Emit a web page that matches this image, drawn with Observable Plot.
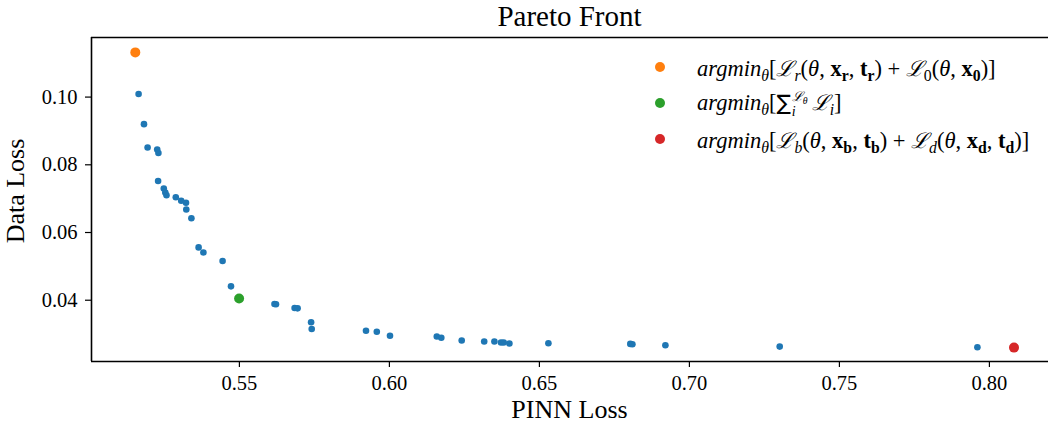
<!DOCTYPE html>
<html>
<head>
<meta charset="utf-8">
<script src="https://cdn.jsdelivr.net/npm/d3@7"></script>
<script src="https://cdn.jsdelivr.net/npm/@observablehq/plot@0.6"></script>
<style>
  html, body { margin: 0; padding: 0; background: #fff; }
  #wrap { position: relative; width: 1048px; height: 428px; overflow: hidden;
          font-family: "Liberation Serif", "DejaVu Serif", serif; color: #000; }
  #wrap svg { position: absolute; left: 0; top: 0; }
  .lbl { position: absolute; white-space: nowrap; line-height: 1.15; }
  #title { left: 91px; width: 957px; text-align: center; font-size: 29px; top: 0px; }
  #xlabel { left: 91px; width: 957px; text-align: center; font-size: 26px; top: 395px; }
  #ylabel { font-size: 26px; width: 200px; height: 30px; text-align: center;
            left: -84px; top: 176px; transform: rotate(-90deg); }
  .row { position: absolute; left: 650px; height: 36px; display: flex; align-items: center;
         font-size: 22.5px; white-space: nowrap; }
  .sw { width: 10px; height: 10px; border-radius: 50%; margin: 0 32px 0 5px; flex: none; }
  .m i { font-style: italic; }
  .m b { font-weight: bold; font-style: normal; }
  .m sub, .m sup { font-size: 0.7em; line-height: 0; }
  .m sub { vertical-align: -0.3em; }
  .cal { font-family: "DejaVu Serif", serif; font-style: italic; font-size: 0.95em; }
  .lim { display: inline-flex; flex-direction: column; font-size: 0.62em; line-height: 1.05;
         vertical-align: middle; margin: 0 4px 0 1px; }
  .sum { font-family: "DejaVu Sans", sans-serif; font-size: 0.95em; }
</style>
</head>
<body>
<div id="wrap">
  <div id="title" class="lbl">Pareto Front</div>
  <div id="xlabel" class="lbl">PINN Loss</div>
  <div id="ylabel" class="lbl">Data Loss</div>
</div>
<script>
// Non-dominated solutions found during training (PINN loss vs. data loss)
const pinnLoss = [
  0.5164, 0.5182, 0.5194, 0.5226, 0.5230, 0.5229, 0.5248, 0.5253, 0.5257, 0.5288,
  0.5306, 0.5322, 0.5323, 0.5340, 0.5364, 0.5380, 0.5444, 0.5472, 0.5617, 0.5622,
  0.5684, 0.5694, 0.5739, 0.5741, 0.5922, 0.5958, 0.6002, 0.6158, 0.6173, 0.6241,
  0.6316, 0.6350, 0.6372, 0.6381, 0.6400, 0.6530, 0.6803, 0.6810, 0.6920, 0.7301,
  0.7960
];
const dataLoss = [
  0.1009, 0.0920, 0.0851, 0.0845, 0.0835, 0.0752, 0.0730, 0.0718, 0.0710, 0.0704,
  0.0694, 0.0688, 0.0668, 0.0642, 0.0556, 0.0541, 0.0516, 0.0441, 0.0389, 0.0388,
  0.0377, 0.0376, 0.0335, 0.0315, 0.0310, 0.0307, 0.0295, 0.0293, 0.0289, 0.0281,
  0.0278, 0.0278, 0.0275, 0.0275, 0.0272, 0.0273, 0.0271, 0.0270, 0.0267, 0.0263,
  0.0261
];

// Minimisers of the individual objectives
const bestNames = ["residual+initial", "total", "boundary+data"];
const bestPinn = [0.5153, 0.5499, 0.8082];
const bestData = [0.1132, 0.0405, 0.0260];
const bestColors = ["#ff7f0e", "#2ca02c", "#d62728"];

const xTicks = [0.55, 0.60, 0.65, 0.70, 0.75, 0.80];
const yTicks = [0.04, 0.06, 0.08, 0.10];
const xDomain = [0.5007, 0.8197];
const yDomain = [0.0219, 0.1176];

// Legend entries (rich math text)
const legendHtml = [
  '<i>argmin</i><sub><i>θ</i></sub>[<span class="cal">ℒ</span><sub><i>r</i></sub>(<i>θ</i>, <b>x</b><sub><b>r</b></sub>, <b>t</b><sub><b>r</b></sub>) + <span class="cal">ℒ</span><sub>0</sub>(<i>θ</i>, <b>x</b><sub><b>0</b></sub>)]',
  '<i>argmin</i><sub><i>θ</i></sub>[<span class="sum">∑</span><span class="lim"><span><span class="cal">ℒ</span><sub><i>θ</i></sub></span><span><i>i</i></span></span><span class="cal">ℒ</span><sub><i>i</i></sub>]',
  '<i>argmin</i><sub><i>θ</i></sub>[<span class="cal">ℒ</span><sub><i>b</i></sub>(<i>θ</i>, <b>x</b><sub><b>b</b></sub>, <b>t</b><sub><b>b</b></sub>) + <span class="cal">ℒ</span><sub><i>d</i></sub>(<i>θ</i>, <b>x</b><sub><b>d</b></sub>, <b>t</b><sub><b>d</b></sub>)]'
];
const legendTop = [49, 85, 121];

const front = pinnLoss.map((p, i) => ({pinn: p, data: dataLoss[i]}));
const best = bestPinn.map((p, i) => ({name: bestNames[i], pinn: p, data: bestData[i], color: bestColors[i]}));

const chart = Plot.plot({
  width: 1048,
  height: 428,
  marginLeft: 91,
  marginRight: 0,
  marginTop: 37,
  marginBottom: 67,
  style: {fontFamily: '"Liberation Serif", "DejaVu Serif", serif', fontSize: "20px", color: "#000", background: "transparent"},
  x: {domain: xDomain},
  y: {domain: yDomain},
  color: {type: "identity"},
  marks: [
    Plot.axisX(xTicks, {tickFormat: d3.format(".2f"), tickSize: 6, tickPadding: 8, fontSize: 20.5, label: null, strokeWidth: 1.2}),
    Plot.axisY(yTicks, {tickFormat: d3.format(".2f"), tickSize: 6, tickPadding: 8, fontSize: 20.5, label: null, strokeWidth: 1.2}),
    Plot.dot(front, {x: "pinn", y: "data", r: 3.3, fill: "#1f77b4"}),
    Plot.dot(best, {x: "pinn", y: "data", r: 5, fill: "color"}),
    Plot.ruleX([xDomain[0]], {stroke: "#000", strokeWidth: 1.6}),
    Plot.ruleY([yDomain[0], yDomain[1]], {stroke: "#000", strokeWidth: 1.6})
  ]
});

const wrap = document.getElementById("wrap");
wrap.insertBefore(chart, wrap.firstChild);

legendHtml.forEach((html, i) => {
  const row = document.createElement("div");
  row.className = "row";
  row.style.top = legendTop[i] + "px";
  row.innerHTML = `<span class="sw" style="background:${bestColors[i]}"></span><span class="m">${html}</span>`;
  wrap.appendChild(row);
});
</script>
</body>
</html>
